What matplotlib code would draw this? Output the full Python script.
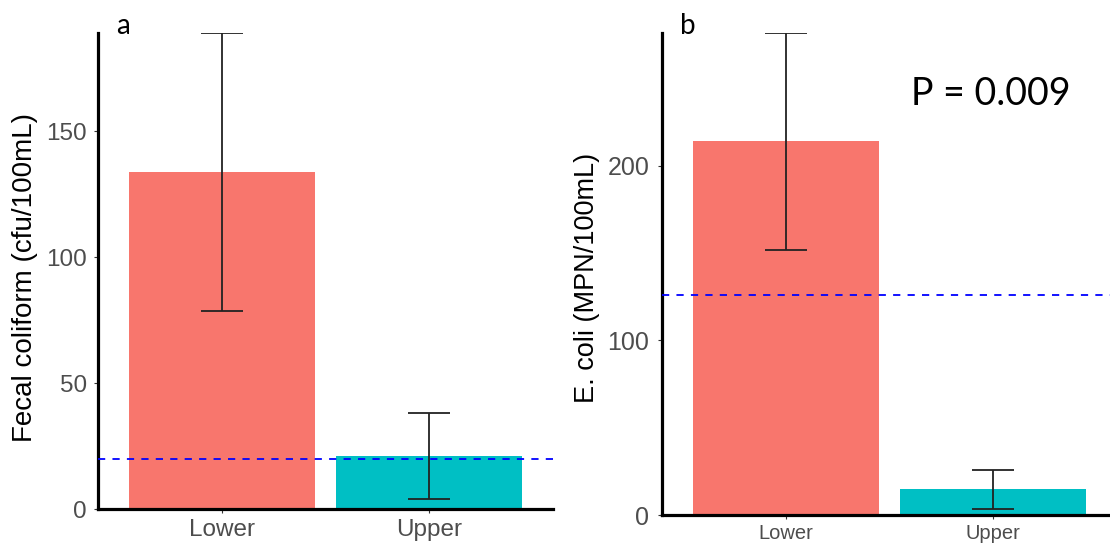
import matplotlib
matplotlib.use("Agg")
import matplotlib.pyplot as plt
import numpy as np

# ---------------- data ----------------
categories = ["Lower", "Upper"]
bar_colors = ["#F8766D", "#00BFC4"]

fc_mean = [133.9, 21.1]
fc_low = [78.8, 4.1]
fc_high = [188.9, 38.1]
fc_ticks = [0, 50, 100, 150]
fc_threshold = 20

ec_mean = [213.8, 15.1]
ec_low = [151.9, 3.8]
ec_high = [275.8, 26.1]
ec_ticks = [0, 100, 200]
ec_threshold = 126

W, H = 1110, 546
fig = plt.figure(figsize=(W / 100, H / 100), dpi=100)
fig.patch.set_facecolor("white")

TICK_FONT = "Liberation Sans"


def px_rect(left, right, bottom, top):
    return [left / W, 1 - bottom / H, (right - left) / W, (bottom - top) / H]


def panel(rect, means, lows, highs, ticks, thr, xfs, yfs, ypad, xpad):
    ax = fig.add_axes(rect)
    x = np.arange(1, len(categories) + 1)
    ax.bar(x, means, width=0.9, color=bar_colors, zorder=1)
    for xi, lo, hi in zip(x, lows, highs):
        ax.plot([xi, xi], [lo, hi], color="#222222", lw=1.3, zorder=3,
                solid_capstyle="butt")
        for yy in (lo, hi):
            ax.plot([xi - 0.1, xi + 0.1], [yy, yy], color="#222222", lw=1.3,
                    zorder=3, solid_capstyle="butt")
    ax.axhline(thr, color="#0000FF", lw=1.3, dashes=(4, 4), zorder=4)
    ax.set_xlim(0.4, len(categories) + 0.6)
    ax.set_ylim(0, max(highs))
    ax.set_xticks(x)
    ax.set_xticklabels(categories)
    ax.set_yticks(ticks)
    for s in ("top", "right"):
        ax.spines[s].set_visible(False)
    for s in ("left", "bottom"):
        ax.spines[s].set_linewidth(2.3)
        ax.spines[s].set_color("black")
        ax.spines[s].set_capstyle("projecting")
    ax.tick_params(axis="both", length=3, width=0.8, color="#333333",
                   labelcolor="#4D4D4D")
    ax.tick_params(axis="y", labelsize=yfs, pad=ypad)
    ax.tick_params(axis="x", labelsize=xfs, pad=xpad)
    for lab in ax.get_xticklabels() + ax.get_yticklabels():
        lab.set_fontfamily(TICK_FONT)
    ax.set_facecolor("white")
    return ax


ax1 = panel(px_rect(98, 553, 509.3, 33), fc_mean, fc_low, fc_high, fc_ticks,
            fc_threshold, 17.5, 17.5, 5, 4)
ax2 = panel(px_rect(661.7, 1117, 515.3, 33), ec_mean, ec_low, ec_high,
            ec_ticks, ec_threshold, 14.5, 18, 6, 3)

fig.text(25 / W, 1 - 278 / H, "Fecal coliform (cfu/100mL)", rotation=90,
         ha="center", va="center", fontsize=20, family=TICK_FONT,
         color="black")
fig.text(587 / W, 1 - 277.5 / H, "E. coli (MPN/100mL)", rotation=90,
         ha="center", va="center", fontsize=19.5, family=TICK_FONT,
         color="black")

fig.text(116 / W, 1 - 34 / H, "a", ha="left", va="baseline", fontsize=20,
         family="Lato", color="black")
fig.text(680 / W, 1 - 34 / H, "b", ha="left", va="baseline", fontsize=20,
         family="Lato", color="black")
fig.text(911 / W, 1 - 105 / H, "P = 0.009", ha="left", va="baseline",
         fontsize=27, family="Lato", color="black")

fig.savefig("out.png", dpi=100, facecolor="white")
